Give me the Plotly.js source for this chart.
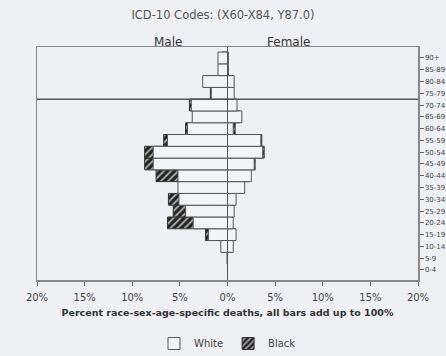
<!DOCTYPE html>
<html>
<head>
<meta charset="utf-8">
<script src="https://cdn.plot.ly/plotly-3.0.1.min.js"></script>
<style>
  html, body { margin: 0; padding: 0; background: #eef0f4; }
  #chart { width: 446px; height: 356px; }
</style>
</head>
<body>
<div id="chart"></div>
<script>
const ageGroups = ["0-4","5-9","10-14","15-19","20-24","25-29","30-34","35-39","40-44","45-49","50-54","55-59","60-64","65-69","70-74","75-79","80-84","85-89","90+"];
const maleWhite   = [0.0, 0.05, 0.7, 2.0, 3.6, 4.4, 5.1, 5.2, 5.2, 7.8, 7.8, 6.3, 4.2, 3.7, 3.8, 1.7, 2.6, 1.0, 1.0];
const maleBlack   = [0.0, 0.0, 0.6, 2.3, 6.3, 5.7, 6.2, 5.0, 7.5, 8.7, 8.7, 6.7, 4.4, 3.5, 4.0, 1.8, 2.3, 0.8, 0.6];
const femaleWhite = [0.0, 0.0, 0.6, 0.9, 0.6, 0.7, 0.9, 1.8, 2.5, 2.8, 3.7, 3.5, 0.6, 1.5, 1.0, 0.7, 0.7, 0.1, 0.1];
const femaleBlack = [0.0, 0.0, 0.5, 0.8, 0.5, 0.6, 0.8, 1.6, 2.3, 2.9, 3.85, 3.6, 0.8, 1.3, 0.9, 0.6, 0.5, 0.0, 0.0];
const xTickVals = [-20, -15, -10, -5, 0, 5, 10, 15, 20];
const xTickText = ["20%", "15%", "10%", "5%", "0%", "5%", "10%", "15%", "20%"];

const neg = a => a.map(v => -v);
const blackPattern = { shape: "/", fgcolor: "#222", bgcolor: "#a8a8a8", size: 5, solidity: 0.6, fillmode: "replace" };
const FONT = "DejaVu Sans, Liberation Sans, Arial, sans-serif";

const traces = [
  { type: "bar", orientation: "h", name: "Black", legendgroup: "b", legendrank: 2,
    x: neg(maleBlack), y: ageGroups,
    marker: { color: "#222", pattern: blackPattern, line: { color: "#333", width: 1 } } },
  { type: "bar", orientation: "h", name: "Black", legendgroup: "b", showlegend: false,
    x: femaleBlack, y: ageGroups,
    marker: { color: "#222", pattern: blackPattern, line: { color: "#333", width: 1 } } },
  { type: "bar", orientation: "h", name: "White", legendgroup: "w", legendrank: 1,
    x: neg(maleWhite), y: ageGroups,
    marker: { color: "#f3f4f7", line: { color: "#555", width: 1 } } },
  { type: "bar", orientation: "h", name: "White", legendgroup: "w", showlegend: false,
    x: femaleWhite, y: ageGroups,
    marker: { color: "#f3f4f7", line: { color: "#555", width: 1 } } }
];

const layout = {
  width: 446, height: 356,
  paper_bgcolor: "#eef0f4", plot_bgcolor: "#eef0f4",
  font: { family: FONT, color: "#333" },
  margin: { l: 37, r: 28, t: 47, b: 76 },
  barmode: "overlay", bargap: 0,
  title: { text: "ICD-10 Codes: (X60-X84, Y87.0)", font: { family: FONT, size: 11.5, color: "#555" }, x: 0.5, xanchor: "center", y: 0.958, yanchor: "middle" },
  xaxis: {
    range: [-20, 20], tickvals: xTickVals, ticktext: xTickText,
    tickfont: { family: FONT, size: 10, color: "#444" }, ticks: "outside", ticklen: 4, tickcolor: "#666",
    ticklabelstandoff: 3,
    showgrid: false, zeroline: true, zerolinecolor: "#555", zerolinewidth: 1,
    showline: true, linecolor: "#888", linewidth: 1.5, mirror: true,
    title: { text: "<b>Percent race-sex-age-specific deaths, all bars add up to 100%</b>", font: { family: FONT, size: 9.5, color: "#333" }, standoff: 8 },
    automargin: false,
    fixedrange: true
  },
  yaxis: {
    type: "category", categoryorder: "array", categoryarray: ageGroups,
    range: [-0.85, 18.93], side: "right",
    tickfont: { family: FONT, size: 7, color: "#444" }, ticks: "outside", ticklen: 4, tickcolor: "#666",
    showgrid: false, showline: true, linecolor: "#888", linewidth: 1.5, mirror: true,
    automargin: false,
    fixedrange: true
  },
  shapes: [
    { type: "line", xref: "paper", x0: 0, x1: 1, yref: "y", y0: 14.5, y1: 14.5, line: { color: "#555", width: 1.5 } }
  ],
  annotations: [
    { text: "Male", x: -6.2, xref: "x", y: 1, yref: "paper", yanchor: "bottom", yshift: -4, showarrow: false, font: { family: FONT, size: 12, color: "#333" } },
    { text: "Female", x: 6.4, xref: "x", y: 1, yref: "paper", yanchor: "bottom", yshift: -4, showarrow: false, font: { family: FONT, size: 12, color: "#333" } }
  ],
  legend: { orientation: "h", x: 0.5, xanchor: "center", yref: "container", y: 0.035, yanchor: "middle", font: { family: FONT, size: 10, color: "#444" }, bgcolor: "rgba(0,0,0,0)", itemwidth: 30 },
  showlegend: true
};

Plotly.newPlot("chart", traces, layout, { displayModeBar: false, staticPlot: true });
</script>
</body>
</html>
